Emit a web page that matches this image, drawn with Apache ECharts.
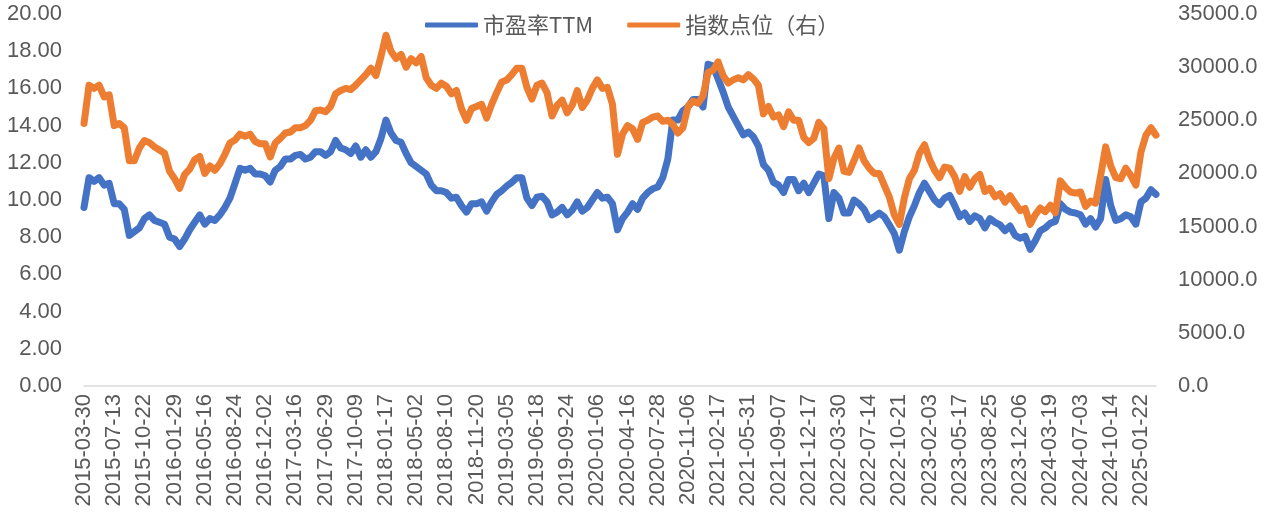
<!DOCTYPE html>
<html lang="zh-CN">
<head>
<meta charset="utf-8">
<title>市盈率TTM与指数点位</title>
<script src="https://cdn.jsdelivr.net/npm/echarts@6/dist/echarts.min.js"></script>
<style>
    html, body { margin: 0; padding: 0; background: #fff; }
    #chart { width: 1268px; height: 517px; }
</style>
</head>
<body>
<div id="chart"></div>
<script>
// 日期（每行第一个为坐标轴显示的日期）
var dates = [
    '2015-03-30','2015-04-16','2015-05-05','2015-05-21','2015-06-08','2015-06-25',
    '2015-07-13','2015-07-30','2015-08-17','2015-09-02','2015-09-18','2015-10-06',
    '2015-10-22','2015-11-06','2015-11-24','2015-12-10','2015-12-29','2016-01-14',
    '2016-01-29','2016-02-19','2016-03-07','2016-03-23','2016-04-11','2016-04-28',
    '2016-05-16','2016-06-01','2016-06-20','2016-07-06','2016-07-22','2016-08-08',
    '2016-08-24','2016-09-09','2016-09-28','2016-10-17','2016-11-02','2016-11-18',
    '2016-12-02','2016-12-19','2017-01-05','2017-01-23','2017-02-10','2017-02-28',
    '2017-03-16','2017-04-03','2017-04-21','2017-05-10','2017-05-26','2017-06-13',
    '2017-06-29','2017-07-17','2017-08-02','2017-08-18','2017-09-05','2017-09-21',
    '2017-10-09','2017-10-25','2017-11-10','2017-11-28','2017-12-14','2018-01-02',
    '2018-01-17','2018-02-02','2018-02-22','2018-03-12','2018-03-28','2018-04-17',
    '2018-05-02','2018-05-18','2018-06-05','2018-06-22','2018-07-10','2018-07-26',
    '2018-08-10','2018-08-28','2018-09-13','2018-10-03','2018-10-19','2018-11-05',
    '2018-11-20','2018-12-06','2018-12-24','2019-01-11','2019-01-29','2019-02-19',
    '2019-03-05','2019-03-21','2019-04-08','2019-04-26','2019-05-15','2019-05-31',
    '2019-06-18','2019-07-05','2019-07-23','2019-08-08','2019-08-26','2019-09-10',
    '2019-09-24','2019-10-14','2019-10-30','2019-11-15','2019-12-03','2019-12-19',
    '2020-01-06','2020-01-22','2020-02-13','2020-03-02','2020-03-18','2020-04-01',
    '2020-04-16','2020-05-05','2020-05-21','2020-06-08','2020-06-24','2020-07-13',
    '2020-07-28','2020-08-13','2020-08-31','2020-09-16','2020-10-05','2020-10-21',
    '2020-11-06','2020-11-23','2020-12-09','2020-12-28','2021-01-13','2021-01-29',
    '2021-02-17','2021-03-05','2021-03-23','2021-04-13','2021-04-29','2021-05-14',
    '2021-05-31','2021-06-16','2021-07-05','2021-07-21','2021-08-06','2021-08-23',
    '2021-09-07','2021-09-24','2021-10-12','2021-10-28','2021-11-15','2021-12-01',
    '2021-12-17','2022-01-05','2022-01-21','2022-02-10','2022-02-28','2022-03-16',
    '2022-03-30','2022-04-19','2022-05-06','2022-05-24','2022-06-10','2022-06-28',
    '2022-07-14','2022-08-01','2022-08-17','2022-09-02','2022-09-21','2022-10-07',
    '2022-10-21','2022-11-08','2022-11-24','2022-12-12','2022-12-30','2023-01-18',
    '2023-02-03','2023-02-21','2023-03-09','2023-03-27','2023-04-17','2023-05-03',
    '2023-05-17','2023-06-02','2023-06-20','2023-07-10','2023-07-26','2023-08-11',
    '2023-08-25','2023-09-12','2023-09-28','2023-10-18','2023-11-03','2023-11-21',
    '2023-12-06','2023-12-22','2024-01-10','2024-01-26','2024-02-16','2024-03-04',
    '2024-03-19','2024-04-08','2024-04-25','2024-05-14','2024-05-31','2024-06-18',
    '2024-07-03','2024-07-19','2024-08-06','2024-08-22','2024-09-09','2024-09-26',
    '2024-10-14','2024-10-30','2024-11-15','2024-12-03','2024-12-19','2025-01-07',
    '2025-01-22','2025-02-10','2025-02-26','2025-03-14'
];

// 市盈率TTM（左轴）
var peTTM = [
    9.6, 11.2, 11.0, 11.2, 10.8, 10.9,
    9.8, 9.8, 9.5, 8.1, 8.3, 8.5,
    9.0, 9.2, 8.9, 8.8, 8.7, 8.0,
    7.9, 7.5, 7.9, 8.4, 8.8, 9.2,
    8.7, 9.0, 8.9, 9.2, 9.6, 10.1,
    10.9, 11.7, 11.6, 11.7, 11.4, 11.4,
    11.3, 10.97, 11.6, 11.8, 12.2, 12.2,
    12.4, 12.45, 12.2, 12.3, 12.6, 12.6,
    12.4, 12.6, 13.2, 12.8, 12.7, 12.5,
    12.9, 12.3, 12.7, 12.3, 12.6, 13.3,
    14.3, 13.6, 13.2, 13.1, 12.5, 12.0,
    11.8, 11.6, 11.4, 10.8, 10.5, 10.5,
    10.4, 10.1, 10.15, 9.7, 9.35, 9.8,
    9.8, 9.9, 9.4, 9.9, 10.3, 10.5,
    10.75, 10.95, 11.2, 11.2, 10.1, 9.7,
    10.15, 10.2, 9.9, 9.2, 9.35, 9.6,
    9.2, 9.45, 9.9, 9.4, 9.6, 10.0,
    10.4, 10.1, 10.15, 9.8, 8.4, 9.0,
    9.35, 9.8, 9.5, 10.1, 10.4, 10.6,
    10.7, 11.2, 12.2, 14.3, 14.3, 14.8,
    15.0, 15.4, 15.4, 15.0, 17.3, 17.2,
    16.5, 15.8, 15.0, 14.5, 14.0, 13.5,
    13.65, 13.4, 12.9, 11.9, 11.6, 10.95,
    10.8, 10.4, 11.1, 11.1, 10.5, 10.9,
    10.4, 10.9, 11.4, 11.3, 9.0, 10.4,
    10.1, 9.3, 9.3, 10.0, 9.8, 9.5,
    8.95, 9.1, 9.3, 9.1, 8.66, 8.2,
    7.3, 8.3, 9.1, 9.7, 10.4, 10.9,
    10.45, 10.0, 9.75, 10.1, 10.25, 9.7,
    9.1, 9.3, 8.85, 9.15, 9.0, 8.5,
    9.0, 8.8, 8.66, 8.35, 8.6, 8.1,
    7.95, 8.05, 7.35, 7.8, 8.35, 8.5,
    8.75, 8.85, 9.8, 9.5, 9.35, 9.3,
    9.2, 8.7, 9.0, 8.55, 9.0, 11.1,
    9.7, 8.9, 9.0, 9.2, 9.1, 8.7,
    9.9, 10.1, 10.55, 10.3
];

// 指数点位（右轴）
var indexLevel = [
    24700, 28300, 28000, 28300, 27200, 27400,
    24500, 24700, 24300, 21200, 21200, 22400,
    23100, 22900, 22500, 22200, 21900, 20200,
    19500, 18600, 19900, 20400, 21300, 21600,
    20000, 20700, 20300, 20900, 21800, 22860,
    23150, 23700, 23500, 23700, 23000, 22800,
    22800, 21550, 22860, 23300, 23800, 23900,
    24300, 24300, 24500, 25000, 25900, 25970,
    25800, 26300, 27500, 27800, 28000, 27900,
    28300, 28800, 29300, 29900, 29200, 31000,
    33000, 31500, 30800, 31200, 30000, 30800,
    30400, 31000, 29000, 28300, 28000, 28500,
    28200, 27500, 27800, 26100, 25000, 26100,
    26300, 26500, 25200, 26500, 27600, 28600,
    28790, 29300, 29900, 29900, 28100, 27000,
    28300, 28500, 27600, 25400, 26400, 26900,
    25700, 26400, 27800, 26200, 26900, 28000,
    28800, 28000, 28100, 26500, 21800, 23700,
    24500, 24200, 23200, 24800, 25000, 25300,
    25400, 24900, 25000, 24600, 23800, 24300,
    26300, 26800, 26600, 27300, 29500, 29700,
    30500, 29200, 28500, 28800, 29000, 28800,
    29300, 28900, 28300, 25600, 26300, 25300,
    25500, 24400, 25800, 25000, 25000, 23400,
    22900, 23300, 24800, 24200, 19500, 21400,
    22390, 20200, 20100, 21200, 22400, 21200,
    20500, 20000, 20000, 18900, 17800, 16100,
    15200, 17700, 19500, 20300, 21900, 22700,
    21300, 20300, 19600, 20600, 20500, 19700,
    18300, 19700, 18700, 19500, 19900, 18300,
    18600, 17800, 18100, 17300, 17900, 17200,
    16500, 16700, 15200, 16100, 16750, 16400,
    17000, 16300, 19300, 18700, 18250, 18150,
    18250, 16900, 17400, 17200, 19800, 22500,
    20700, 19600, 19500, 20500, 19800, 18900,
    22000, 23600, 24300, 23600
];

var seriesNames = ['市盈率TTM', '指数点位（右）'];

var textColor = '#595959';
var numFont = '"Liberation Sans", Arial, sans-serif';

var myChart = echarts.init(document.getElementById('chart'));

var option = {
    animation: false,
    backgroundColor: '#fff',
    legend: {
        top: 9,
        left: 420,
        icon: 'roundRect',
        itemWidth: 53,
        itemHeight: 5,
        itemGap: 34,
        textStyle: { fontSize: 22, color: textColor, fontFamily: '"Noto Sans CJK SC", sans-serif' },
        data: seriesNames
    },
    grid: { left: 84, right: 112, top: 14, bottom: 131, outerBoundsMode: 'none' },
    xAxis: {
        type: 'category',
        data: dates,
        boundaryGap: false,
        axisLine: { lineStyle: { color: '#d9d9d9', width: 1.5 } },
        axisTick: { show: false },
        splitLine: { show: false },
        axisLabel: { interval: 5, rotate: 90, margin: 8, fontSize: 22, color: textColor, fontFamily: numFont }
    },
    yAxis: [
        {
            type: 'value', position: 'left', min: 0, max: 20, interval: 2,
            axisLine: { show: false }, axisTick: { show: false }, splitLine: { show: false },
            axisLabel: {
                fontSize: 22, color: textColor, fontFamily: numFont, margin: 22,
                formatter: function (v) { return v.toFixed(2); }
            }
        },
        {
            type: 'value', position: 'right', min: 0, max: 35000, interval: 5000,
            axisLine: { show: false }, axisTick: { show: false }, splitLine: { show: false },
            axisLabel: {
                fontSize: 22, color: textColor, fontFamily: numFont, margin: 22,
                formatter: function (v) { return v.toFixed(1); }
            }
        }
    ],
    series: [
        {
            name: seriesNames[0], type: 'line', yAxisIndex: 0, data: peTTM,
            symbol: 'none', showSymbol: false,
            itemStyle: { color: '#4472C4' },
            lineStyle: { color: '#4472C4', width: 7, cap: 'round', join: 'round' }
        },
        {
            name: seriesNames[1], type: 'line', yAxisIndex: 1, data: indexLevel,
            symbol: 'none', showSymbol: false,
            itemStyle: { color: '#ED7D31' },
            lineStyle: { color: '#ED7D31', width: 7, cap: 'round', join: 'round' }
        }
    ]
};

myChart.setOption(option);
</script>
</body>
</html>
